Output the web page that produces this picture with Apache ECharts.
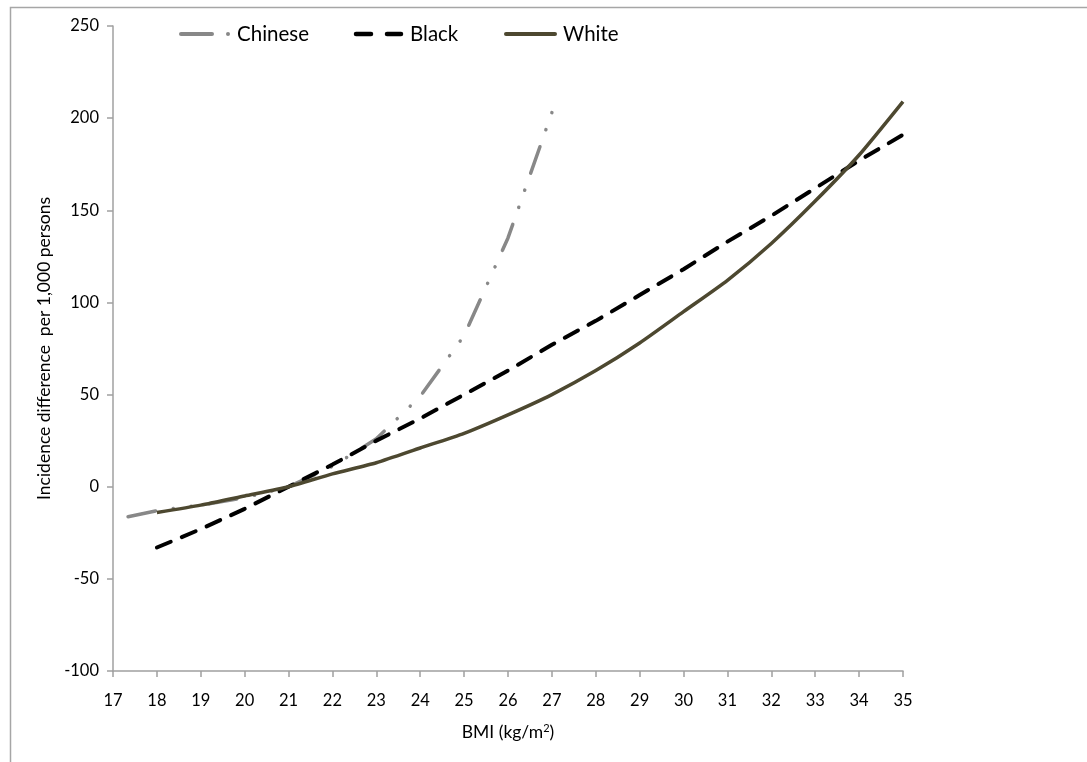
<!DOCTYPE html>
<html>
<head>
<meta charset="utf-8">
<script src="https://cdn.jsdelivr.net/npm/echarts@6/dist/echarts.min.js"></script>
<style>html,body{margin:0;padding:0;background:#fff;}#c{width:1087px;height:762px;}</style>
</head>
<body>
<div id="c"></div>
<script>
var chineseBmi = [17, 18, 19, 20, 21, 22, 23, 24, 25, 26, 27];
var chineseVals = [-18, -13, -10, -6, 0, 11, 26, 49, 82, 135, 203];
var bmi = [18, 19, 20, 21, 22, 23, 24, 25, 26, 27, 28, 29, 30, 31, 32, 33, 34, 35];
var blackVals = [-33, -23, -12, 0, 12, 25, 37, 50, 63, 77, 90, 104, 118, 133, 147, 162, 177, 191];
var whiteVals = [-14, -10, -5, 0, 7, 13, 21, 29, 39, 50, 63, 78, 95, 112, 132, 155, 180, 209];
var yTicks = [-100, -50, 0, 50, 100, 150, 200, 250];
var seriesNames = ['Chinese', 'Black', 'White'];

function pairs(xs, ys) { return xs.map(function (x, i) { return [x, ys[i]]; }); }

var FONT = 'Lato';
var GREY = '#888888', BLACK = '#000000', OLIVE = '#4d4830';
var LY = 34;
var CH_DASH = [28, 18, 0.1, 18, 0.1, 18];

var legendGraphics = [
  { type: 'line', shape: { x1: 181, y1: LY, x2: 212, y2: LY }, style: { stroke: GREY, lineWidth: 4, lineCap: 'round' } },
  { type: 'circle', shape: { cx: 228, cy: LY, r: 2 }, style: { fill: GREY } },
  { type: 'text', left: 237, top: LY - 10, style: { text: seriesNames[0], font: '20.5px Lato', fill: '#000' } },
  { type: 'line', shape: { x1: 356, y1: LY, x2: 371, y2: LY }, style: { stroke: BLACK, lineWidth: 4.5, lineCap: 'round' } },
  { type: 'line', shape: { x1: 387, y1: LY, x2: 401, y2: LY }, style: { stroke: BLACK, lineWidth: 4.5, lineCap: 'round' } },
  { type: 'text', left: 410, top: LY - 10, style: { text: seriesNames[1], font: '20.5px Lato', fill: '#000' } },
  { type: 'line', shape: { x1: 506, y1: LY, x2: 555, y2: LY }, style: { stroke: OLIVE, lineWidth: 4, lineCap: 'round' } },
  { type: 'text', left: 563, top: LY - 10, style: { text: seriesNames[2], font: '20.5px Lato', fill: '#000' } }
];

var chart = echarts.init(document.getElementById('c'));
chart.setOption({
  animation: false,
  textStyle: { fontFamily: FONT },
  graphic: [{
    type: 'rect', left: 8, top: 5, z: -10,
    shape: { x: 0, y: 0, width: 1200, height: 900 },
    style: { fill: 'none', stroke: '#a6a6a6', lineWidth: 1.5 }
  }].concat(legendGraphics),
  grid: { left: 113, right: 184, top: 26, bottom: 91, containLabel: false },
  xAxis: [{
    type: 'value', min: 17, max: 35, interval: 1, position: 'bottom',
    axisLine: { show: false }, axisTick: { show: false }, splitLine: { show: false },
    axisLabel: { fontSize: 16.5, color: '#000', margin: 21, fontFamily: FONT },
    name: 'BMI (kg/m{sup|2})', nameLocation: 'middle', nameGap: 52,
    nameTextStyle: { fontSize: 17.5, color: '#000', fontFamily: FONT,
      rich: { sup: { fontSize: 11, verticalAlign: 'top', padding: [0, 0, 8, 0], fontFamily: FONT, color: '#000' } } }
  }, {
    type: 'value', min: 17, max: 35, interval: 1, position: 'bottom',
    axisLine: { show: true, onZero: true, lineStyle: { color: '#a0a0a0', width: 1.5 } },
    axisTick: { show: true, length: 6, lineStyle: { color: '#a0a0a0', width: 1.5 } },
    axisLabel: { show: false }, splitLine: { show: false }
  }],
  yAxis: {
    type: 'value', min: yTicks[0], max: yTicks[yTicks.length - 1], interval: 50,
    axisLine: { show: true, onZero: false, lineStyle: { color: '#a0a0a0', width: 1.5 } },
    axisTick: { show: true, length: 6, lineStyle: { color: '#a0a0a0', width: 1.5 } },
    splitLine: { show: false },
    axisLabel: { fontSize: 16.5, color: '#000', margin: 14, fontFamily: FONT },
    name: 'Incidence difference  per 1,000 persons', nameLocation: 'middle', nameGap: 54,
    nameTextStyle: { fontSize: 17.5, color: '#000', fontFamily: FONT }
  },
  series: [{
    name: seriesNames[0], type: 'line', xAxisIndex: 0, symbol: 'none', smooth: false,
    data: pairs(chineseBmi, chineseVals),
    lineStyle: { color: GREY, width: 3.5, type: CH_DASH, cap: 'round' },
    itemStyle: { color: GREY }, z: 1
  }, {
    name: seriesNames[1], type: 'line', xAxisIndex: 0, symbol: 'none',
    data: pairs(bmi, blackVals),
    lineStyle: { color: BLACK, width: 4, type: [15, 12], cap: 'round' },
    itemStyle: { color: BLACK }, z: 2
  }, {
    name: seriesNames[2], type: 'line', xAxisIndex: 0, symbol: 'none', smooth: 0.2,
    data: pairs(bmi, whiteVals),
    lineStyle: { color: OLIVE, width: 3.5 },
    itemStyle: { color: OLIVE }, z: 3
  }]
});

// align the dash pattern of the Chinese line so its end lands on a dot
var pts = pairs(chineseBmi, chineseVals).map(function (p) {
  return chart.convertToPixel({ xAxisIndex: 0, yAxisIndex: 0 }, p);
});
var L = 0;
for (var i = 1; i < pts.length; i++) {
  L += Math.hypot(pts[i][0] - pts[i - 1][0], pts[i][1] - pts[i - 1][1]);
}
var P = CH_DASH.reduce(function (a, b) { return a + b; }, 0);
var target = CH_DASH[0] + CH_DASH[1] + CH_DASH[2] + CH_DASH[3] + 0.05;
var off = ((target - L) % P + P) % P;
chart.setOption({ series: [{ lineStyle: { dashOffset: off } }] });
</script>
</body>
</html>
